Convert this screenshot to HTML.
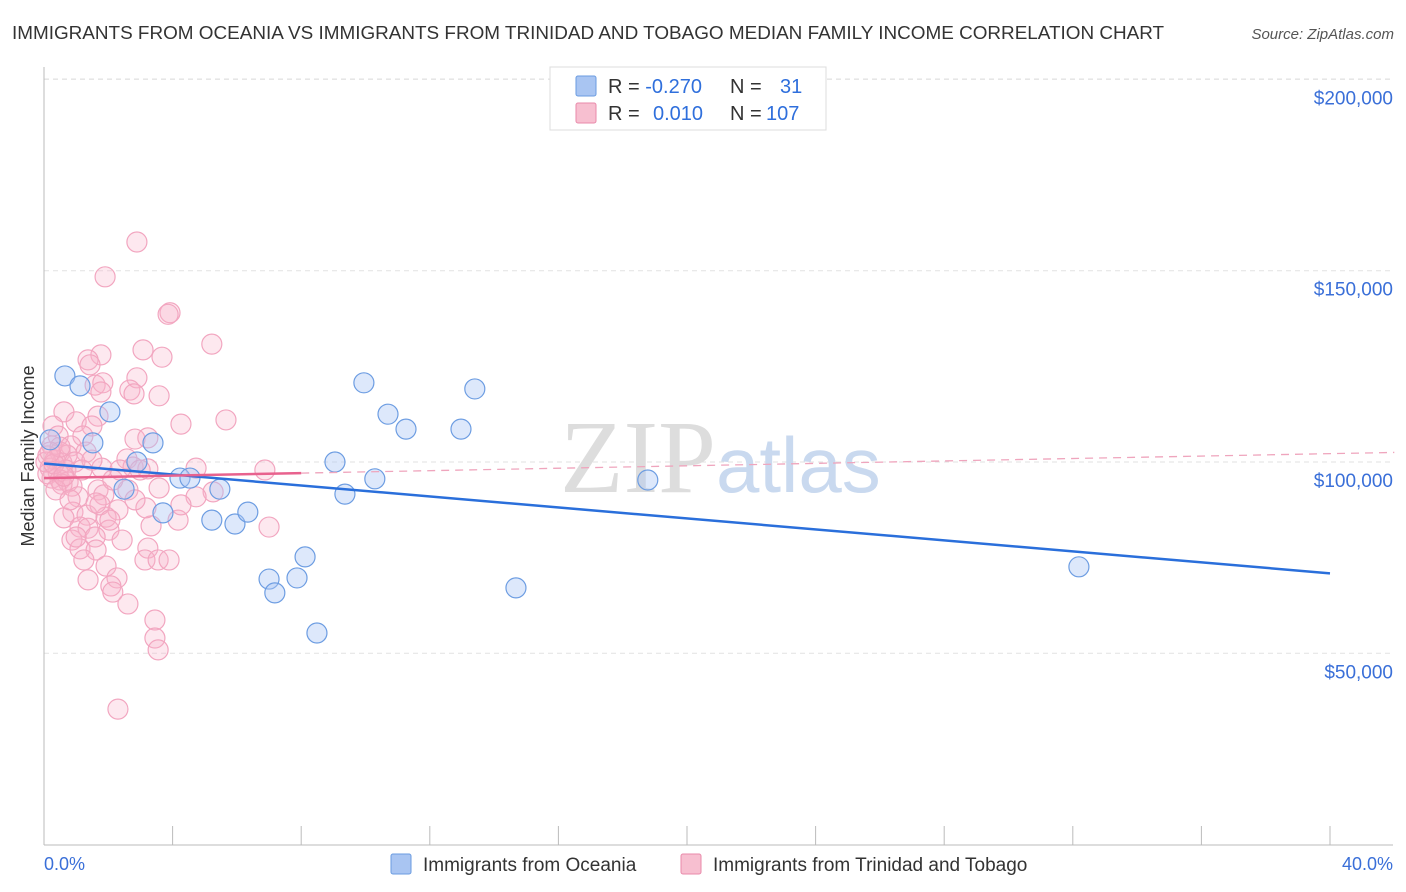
<!DOCTYPE html>
<html><head><meta charset="utf-8"><style>
body{margin:0;background:#fff;font-family:"Liberation Sans",sans-serif;}
svg{display:block}
</style></head><body>
<svg id="chart" width="1406" height="892" xmlns="http://www.w3.org/2000/svg">
<text x="12" y="39" font-size="18.9" fill="#333">IMMIGRANTS FROM OCEANIA VS IMMIGRANTS FROM TRINIDAD AND TOBAGO MEDIAN FAMILY INCOME CORRELATION CHART</text>
<text x="1394" y="39" font-size="15" fill="#555" font-style="italic" text-anchor="end">Source: ZipAtlas.com</text>
<g id="grid"></g>
<text x="716" y="492" font-size="104" font-family="Liberation Serif,serif" fill="#ddd" text-anchor="end">ZIP</text>
<text x="716" y="492" font-size="78" fill="#c9d9ef">atlas</text>
<g id="marks"></g>
<text transform="translate(34,456) rotate(-90)" font-size="18" fill="#333" text-anchor="middle">Median Family Income</text>
<text x="44" y="870" font-size="18" fill="#3a6fd8">0.0%</text>
<text x="1393" y="870" font-size="18" fill="#3a6fd8" text-anchor="end">40.0%</text>
<g>
<rect x="550" y="67" width="276" height="63" fill="#fff" stroke="#ddd"/>
<rect x="576" y="76" width="20" height="20" fill="#a9c5f2" stroke="#6a9be0" rx="2"/>
<rect x="576" y="103" width="20" height="20" fill="#f7bfd0" stroke="#e88aaa" rx="2"/>
<text x="608" y="93" font-size="20" fill="#333">R = <tspan fill="#2f6fdc">-0.270</tspan><tspan x="730">N = </tspan><tspan x="780" fill="#2f6fdc">31</tspan></text>
<text x="608" y="120" font-size="20" fill="#333">R = <tspan x="653" fill="#2f6fdc">0.010</tspan><tspan x="730">N = </tspan><tspan x="766" fill="#2f6fdc">107</tspan></text>
</g>
<g>
<rect x="391" y="854" width="20" height="20" fill="#a9c5f2" stroke="#6a9be0" rx="2"/>
<text x="423" y="871" font-size="19" fill="#333">Immigrants from Oceania</text>
<rect x="681" y="854" width="20" height="20" fill="#f7bfd0" stroke="#e88aaa" rx="2"/>
<text x="713" y="871" font-size="19" fill="#333">Immigrants from Trinidad and Tobago</text>
</g>
</svg>
<script>
const yTicks=[50000,100000,150000,200000];
const yTickLabels=["$50,000","$100,000","$150,000","$200,000"];
const xTicks=[0,4,8,12,16,20,24,28,32,36,40];
const blueX=[0.65,1.12,2.05,1.52,3.39,2.89,2.49,4.23,4.54,5.47,3.70,5.22,5.94,6.34,7.00,7.18,7.87,8.12,8.49,9.05,9.36,9.95,10.70,11.26,10.29,12.97,13.40,14.68,18.78,32.19,0.19];
const blueY=[122.5,119.9,113.1,105.0,105.0,100.0,92.9,95.8,95.8,92.9,86.7,84.8,83.8,86.9,69.4,65.8,69.7,75.2,55.3,100.0,91.6,120.7,112.5,108.6,95.6,108.6,119.1,67.1,95.3,72.6,105.8];
const pinkX=[2.89,1.90,3.92,3.86,5.22,3.08,1.77,1.37,3.67,1.43,2.89,1.59,1.83,2.67,1.77,2.80,3.58,0.62,1.68,5.66,1.00,1.49,4.26,0.28,0.44,1.21,2.83,3.23,0.25,0.84,0.50,1.31,0.72,2.58,0.12,0.34,0.56,0.96,1.80,2.77,3.23,4.73,6.87,0.19,0.44,0.68,0.25,0.50,0.75,0.12,0.56,0.87,1.68,2.61,3.58,5.26,4.73,1.06,1.86,2.30,0.90,1.34,0.62,1.93,4.17,3.33,1.12,1.37,2.02,7.00,0.87,1.59,2.43,3.23,1.12,1.62,3.14,3.55,3.89,1.93,1.37,2.27,2.08,2.14,2.61,3.45,3.45,3.55,2.30,0.37,0.81,1.49,2.14,1.18,0.06,0.31,0.62,2.36,2.99,1.74,1.00,2.05,3.17,4.26,1.62,1.24,2.83,0.50,0.19];
const pinkY=[157.5,148.4,139.0,138.6,130.8,129.3,128.0,126.7,127.4,125.4,122.0,120.1,120.7,118.8,118.3,117.8,117.3,113.1,112.0,111.0,110.5,109.4,109.9,109.4,106.8,106.8,106.0,106.3,104.2,104.2,102.6,102.6,101.8,100.8,101.6,100.5,99.7,100.0,98.4,98.7,98.2,98.4,97.9,98.4,97.4,97.9,95.8,95.3,94.8,96.9,94.2,93.7,92.7,92.7,93.2,92.2,90.9,90.9,91.4,87.5,86.9,86.1,85.4,85.6,84.8,83.3,83.0,82.7,82.2,83.0,79.6,80.4,79.6,77.5,77.3,77.0,74.4,74.4,74.4,72.8,69.2,69.7,67.6,66.0,62.9,58.7,54.0,50.9,35.4,92.7,90.1,100.5,95.3,97.9,100.0,99.5,96.3,97.9,97.9,88.8,80.4,84.8,88.0,88.8,89.3,74.4,90.1,103.9,102.6];
const blueTrend=[[0,99.6],[40,70.9]];
const pinkTrendSolid=[[0,95.8],[8,97.1]];
const pinkTrendDash=[[8,97.1],[42,102.5]];
const NS="http://www.w3.org/2000/svg";
function xs(p){return 44+p*1286/40;}
function ys(v){return 844.6-v*(844.6-462)/100000;}
const gridG=document.getElementById('grid');
const marksG=document.getElementById('marks');
function mk(tag,attrs,parent){const e=document.createElementNS(NS,tag);for(const k in attrs)e.setAttribute(k,attrs[k]);parent.appendChild(e);return e;}
yTicks.forEach((t,i)=>{
  const l=mk('line',{x1:44,x2:1393,y1:ys(t),y2:ys(t),stroke:'#e2e2e2','stroke-dasharray':'5,4'},gridG);
  
  
  const tx=mk('text',{x:1393,y:ys(t)+25,'font-size':19,fill:'#3a6fd8','text-anchor':'end'},gridG);
  tx.textContent=yTickLabels[i];
  
  
});
const topGrid=mk('line',{x1:44,x2:1393,y1:79,y2:79,stroke:'#e2e2e2','stroke-dasharray':'5,4'},gridG);


const ax=mk('line',{x1:44,x2:44,y1:67,y2:845,stroke:'#bbb'},gridG);


const bx=mk('line',{x1:44,x2:1393,y1:845,y2:845,stroke:'#bbb'},gridG);


xTicks.forEach(t=>{
  const l=mk('line',{x1:xs(t),x2:xs(t),y1:826,y2:845,stroke:'#bbb'},gridG);
  
  
});
pinkX.forEach((x,i)=>{
  const c=mk('circle',{cx:xs(x),cy:ys(pinkY[i]*1000),r:10,fill:'rgba(248,180,202,0.3)',stroke:'#f2a6c0','stroke-width':1.2},marksG);
  
  
});
blueX.forEach((x,i)=>{
  const c=mk('circle',{cx:xs(x),cy:ys(blueY[i]*1000),r:10,fill:'rgba(170,198,244,0.4)',stroke:'#6d9de2','stroke-width':1.2},marksG);
  
  
});
const bl=mk('line',{x1:xs(blueTrend[0][0]),y1:ys(blueTrend[0][1]*1000),x2:xs(blueTrend[1][0]),y2:ys(blueTrend[1][1]*1000),stroke:'#2a6fdb','stroke-width':2.5},marksG);


const pd=mk('line',{x1:xs(pinkTrendDash[0][0]),y1:ys(pinkTrendDash[0][1]*1000),x2:xs(pinkTrendDash[1][0]),y2:ys(pinkTrendDash[1][1]*1000),stroke:'#efa5bd','stroke-width':1.3,'stroke-dasharray':'8,6'},marksG);


const ps=mk('line',{x1:xs(pinkTrendSolid[0][0]),y1:ys(pinkTrendSolid[0][1]*1000),x2:xs(pinkTrendSolid[1][0]),y2:ys(pinkTrendSolid[1][1]*1000),stroke:'#e8628e','stroke-width':2.5},marksG);


</script>
</body></html>
